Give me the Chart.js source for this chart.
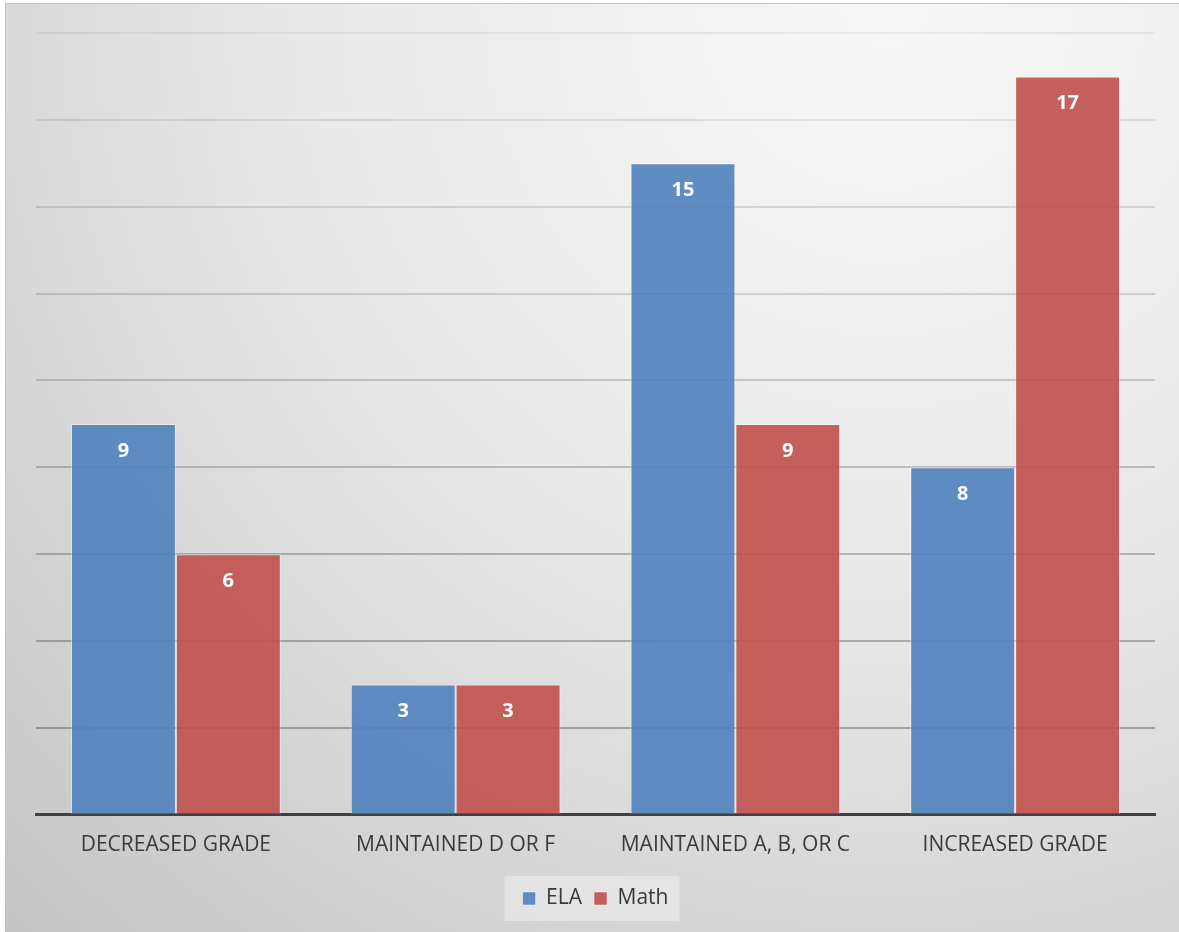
<!DOCTYPE html>
<html>
<head>
<meta charset="utf-8">
<script src="https://cdn.jsdelivr.net/npm/chart.js@4.4.1/dist/chart.umd.min.js"></script>
<style>
  html, body { margin: 0; padding: 0; background: #ffffff; }
  #frame {
    position: absolute; left: 5px; top: 3px; width: 1174px; height: 929px;
    box-sizing: border-box;
    border-top: 1px solid #c4c4c4; border-left: 1px solid #c4c4c4;
    background: radial-gradient(circle farthest-corner at 75% 0%, #f7f7f7 0%, #e9e9e9 45%, #d8d8d8 70%, #c4c4c4 100%);
  }
  canvas { position: absolute; left: 0; top: 0; }
</style>
</head>
<body>
<div id="frame"><canvas id="c" width="1173" height="928"></canvas></div>
<script>
const categories = ['DECREASED GRADE', 'MAINTAINED D OR F', 'MAINTAINED A, B, OR C', 'INCREASED GRADE'];
const elaValues = [9, 3, 15, 8];
const mathValues = [6, 3, 9, 17];
const seriesNames = ['ELA', 'Math'];

const FONT = "'Open Sans', 'Noto Sans', sans-serif";

// lighter legend panel behind the legend items
const legendPanel = {
  id: 'legendPanel',
  beforeDraw(chart) {
    const boxes = chart.legend && chart.legend.legendHitBoxes;
    if (!boxes || !boxes.length) return;
    const first = boxes[0], last = boxes[boxes.length - 1];
    const x0 = first.left - 18, x1 = last.left + last.width + 11;
    const cy = first.top + first.height / 2;
    const ctx = chart.ctx;
    ctx.save();
    ctx.fillStyle = 'rgba(255,255,255,0.35)';
    ctx.fillRect(x0, cy - 22.5, x1 - x0, 45);
    ctx.restore();
  }
};

// value labels inside the top of each bar
const valueLabels = {
  id: 'valueLabels',
  afterDatasetsDraw(chart) {
    const ctx = chart.ctx;
    ctx.save();
    ctx.fillStyle = '#ffffff';
    ctx.font = 'bold 20px ' + FONT;
    ctx.textAlign = 'center';
    ctx.textBaseline = 'middle';
    chart.data.datasets.forEach((ds, i) => {
      chart.getDatasetMeta(i).data.forEach((el, j) => {
        ctx.fillText(String(ds.data[j]), el.x, el.y + 27);
      });
    });
    ctx.restore();
  }
};

new Chart(document.getElementById('c'), {
  type: 'bar',
  data: {
    labels: categories,
    datasets: [
      {
        label: seriesNames[0],
        data: elaValues,
        backgroundColor: 'rgba(79,129,189,0.9)',
        borderColor: 'rgba(255,255,255,0.45)',
        borderWidth: 1,
        categoryPercentage: 0.75,
        barPercentage: 1.0
      },
      {
        label: seriesNames[1],
        data: mathValues,
        backgroundColor: 'rgba(192,80,77,0.9)',
        borderColor: 'rgba(255,255,255,0.45)',
        borderWidth: 1,
        categoryPercentage: 0.75,
        barPercentage: 1.0
      }
    ]
  },
  options: {
    responsive: false,
    animation: false,
    layout: { padding: { left: 30, right: 24, top: 29, bottom: 13 } },
    plugins: {
      tooltip: { enabled: false },
      legend: {
        position: 'bottom',
        labels: {
          color: '#3a3a3a',
          font: { family: FONT, size: 21 },
          boxWidth: 13,
          boxHeight: 13,
          padding: 12
        }
      }
    },
    scales: {
      x: {
        grid: { display: false, drawTicks: false },
        border: { display: true, color: '#404040', width: 3 },
        ticks: {
          color: '#3a3a3a',
          font: { family: FONT, size: 21 },
          padding: 18,
          maxRotation: 0
        }
      },
      y: {
        min: 0,
        max: 18,
        ticks: { display: false, stepSize: 2 },
        border: { display: false },
        grid: {
          drawTicks: false,
          lineWidth: 2,
          color: (ctx) => {
            const v = ctx.tick ? ctx.tick.value : 0;
            if (v === 0) return 'rgba(0,0,0,0)';
            const t = v / 18; // 0 bottom .. 1 top
            const a = 0.38 - 0.31 * t;
            return 'rgba(40,40,40,' + a.toFixed(3) + ')';
          }
        }
      }
    }
  },
  plugins: [legendPanel, valueLabels]
});
</script>
</body>
</html>
